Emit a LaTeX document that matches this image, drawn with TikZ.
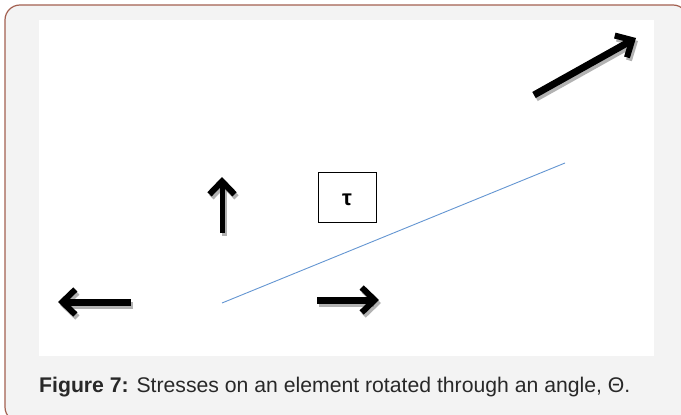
\documentclass[tikz,border=0pt]{standalone}
\usepackage{fontspec}
\setmainfont{Liberation Sans}
\usepackage{xcolor}
\usetikzlibrary{arrows.meta}
\definecolor{framered}{RGB}{163,96,80}
\definecolor{panelgray}{RGB}{243,243,243}
\definecolor{lineblue}{RGB}{100,150,210}
\definecolor{captiongray}{RGB}{40,40,40}

\begin{document}
\begin{tikzpicture}[x=1pt,y=-1pt,
    force/.style={line width=7pt,-{Straight Barb[length=13pt,width=25pt,line width=6pt]}},
    forceshadow/.style={force,black!50,opacity=0.6,transform canvas={shift={(2,3)}}}]
    \useasboundingbox (0,0) rectangle (681,415);
    \clip (0,0) rectangle (681,415);

    % frame and white panel
    \draw[framered,fill=panelgray,line width=1.2pt,rounded corners=15pt] (5,5) rectangle (688,422);
    \fill[white] (39,20) rectangle (654,356);

    % arrow end points
    \coordinate (lt) at (58,302);
    \coordinate (lb) at (131,302);
    \coordinate (rb) at (317,300);
    \coordinate (rt) at (379,300);
    \coordinate (ub) at (222,233);
    \coordinate (ut) at (222,177);
    \coordinate (db) at (534,95);
    \coordinate (dt) at (636,38);

    % shadows
    \draw[forceshadow] (lb) -- (lt);
    \draw[forceshadow] (rb) -- (rt);
    \draw[forceshadow,line width=5pt] (ub) -- (ut);
    \draw[forceshadow] (db) -- (dt);

    % stress arrows
    \draw[force] (lb) -- (lt);
    \draw[force] (rb) -- (rt);
    \draw[force,line width=5pt] (ub) -- (ut);
    \draw[force] (db) -- (dt);

    % shear box and plane
    \node[draw,line width=0.9pt,minimum width=58pt,minimum height=50pt] (taubox) at (347,197) {};
    \node[font=\bfseries\fontsize{22}{22}\selectfont] (taulabel) at (347,200) {τ};
    \coordinate (pa) at (222,303);
    \coordinate (pb) at (565,163);
    \draw[lineblue,line width=0.9pt] (pa) -- (pb);

    % caption
    \node[anchor=base west,inner sep=0pt,text=captiongray,font=\fontsize{21.2}{24}\selectfont] (cap) at (39,392)
        {\textbf{Figure 7:} Stresses on an element rotated through an angle, Θ.};
\end{tikzpicture}
\end{document}
